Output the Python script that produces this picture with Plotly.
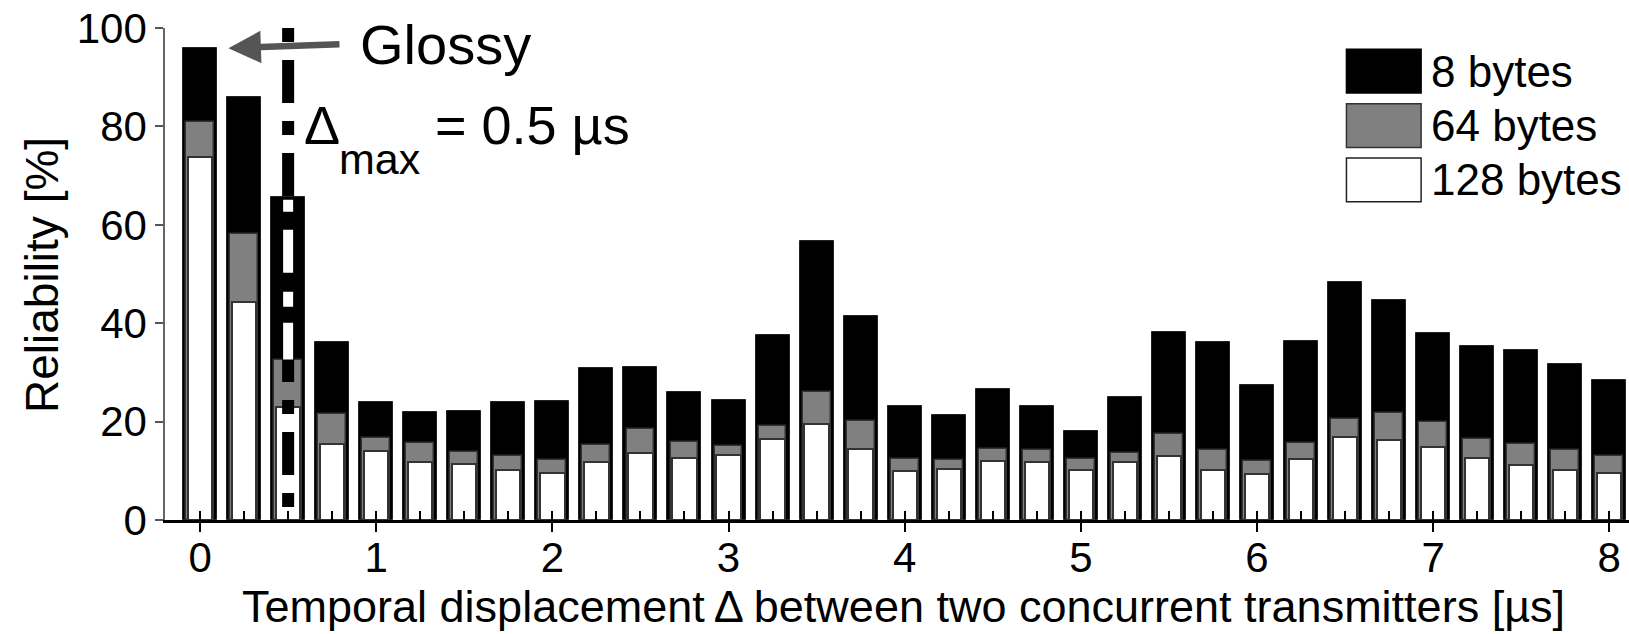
import plotly.graph_objects as go

# ---- data ----
delta_us = [0, 0.25, 0.5, 0.75, 1, 1.25, 1.5, 1.75, 2, 2.25, 2.5, 2.75, 3, 3.25, 3.5, 3.75,
            4, 4.25, 4.5, 4.75, 5, 5.25, 5.5, 5.75, 6, 6.25, 6.5, 6.75, 7, 7.25, 7.5, 7.75, 8]
rel_8 = [96.0, 86.0, 65.7, 36.2, 23.9, 22.0, 22.2, 23.9, 24.2, 30.9, 31.1, 26.1, 24.4, 37.7, 56.8, 41.5,
         23.1, 21.4, 26.7, 23.1, 18.0, 25.0, 38.3, 36.2, 27.5, 36.4, 48.3, 44.7, 38.1, 35.4, 34.5, 31.8, 28.4]
rel_64 = [80.9, 58.1, 32.6, 21.6, 16.7, 15.7, 13.8, 13.1, 12.1, 15.3, 18.4, 15.9, 15.0, 19.1, 26.1, 20.1,
          12.3, 12.1, 14.4, 14.2, 12.5, 13.6, 17.4, 14.2, 11.9, 15.7, 20.6, 21.8, 19.9, 16.5, 15.5, 14.2, 13.1]
rel_128 = [73.7, 44.3, 22.9, 15.5, 14.0, 11.7, 11.4, 10.2, 9.5, 11.7, 13.6, 12.7, 13.3, 16.5, 19.5, 14.4,
           10.0, 10.4, 11.9, 11.7, 10.2, 11.7, 13.1, 10.2, 9.3, 12.3, 16.9, 16.3, 14.8, 12.7, 11.2, 10.2, 9.5]
series_names = ["8 bytes", "64 bytes", "128 bytes"]
x_ticks = [0, 1, 2, 3, 4, 5, 6, 7, 8]
y_ticks = [0, 20, 40, 60, 80, 100]
delta_max = 0.5

FONT = "Liberation Sans, Arial, Helvetica, sans-serif"
X_RANGE = [-0.199, 8.112]

fig = go.Figure()
fig.add_trace(go.Bar(x=delta_us, y=rel_8, width=0.193, name=series_names[0],
                     marker=dict(color="#000000", line=dict(color="#222222", width=1)),
                     showlegend=False))
fig.add_trace(go.Bar(x=delta_us, y=rel_64, width=0.158, name=series_names[1],
                     marker=dict(color="#808080", line=dict(color="#333333", width=1.5)),
                     showlegend=False))
fig.add_trace(go.Bar(x=delta_us, y=rel_128, width=0.138, name=series_names[2],
                     marker=dict(color="#ffffff", line=dict(color="#333333", width=2)),
                     showlegend=False, xaxis="x2"))

fig.update_layout(
    template="none",
    width=1629, height=634,
    margin=dict(l=165, r=0, t=28, b=114, autoexpand=False),
    paper_bgcolor="white", plot_bgcolor="white",
    barmode="overlay", bargap=0, showlegend=False,
    font=dict(family=FONT, color="black", size=42),
    xaxis=dict(range=X_RANGE, tickvals=x_ticks, ticktext=[str(v) for v in x_ticks],
               ticks="outside", ticklen=9, tickwidth=1.5, tickcolor="black",
               showline=True, linecolor="black", linewidth=3, automargin=False,
               showgrid=False, zeroline=False, ticklabelstandoff=-10,
               tickfont=dict(size=42)),
    xaxis2=dict(overlaying="x", range=X_RANGE, anchor="y", side="bottom",
                tickmode="linear", tick0=0, dtick=0.25, automargin=False,
                ticks="inside", ticklen=9, tickwidth=1.5, tickcolor="black",
                showticklabels=False, showline=False, showgrid=False, zeroline=False),
    yaxis=dict(range=[0, 100], tickvals=y_ticks, ticks="outside", ticklen=8, tickwidth=1.5,
               tickcolor="#555555", showline=True, linecolor="#666666", linewidth=1.5,
               showgrid=False, zeroline=False, tickfont=dict(size=42), automargin=False),
)

# axis titles
fig.add_annotation(x=0.5045, y=(520 - 606) / 492.0, xref="paper", yref="paper", yanchor="middle",
                   text="Temporal displacement\u2009\u0394 between two concurrent transmitters [\u00b5s]",
                   showarrow=False, font=dict(size=45))
fig.add_annotation(x=(42 - 165) / 1464.0, y=(520 - 275) / 492.0, xref="paper", yref="paper",
                   text="Reliability [%]", textangle=-90, showarrow=False,
                   xanchor="center", yanchor="middle", font=dict(size=46))

# dash-dot line marking delta_max
fig.add_shape(type="line", xref="x", yref="y", x0=delta_max, x1=delta_max, y0=100, y1=2,
              line=dict(color="black", width=12, dash="14px,18px,43px,18px"), layer="above")
# inverted (white) segments where the line crosses the black bar
fig.add_shape(type="line", xref="x", yref="y", x0=delta_max, x1=delta_max, y0=65.1, y1=32.6,
              line=dict(color="white", width=10, dash="12px,18px,43px,19px,15px,16px,37px,100px"),
              layer="above")

# Glossy arrow + label
fig.add_annotation(x=0.161, y=95.9, ax=0.80, ay=96.7, xref="x", yref="y", axref="x", ayref="y",
                   text="", showarrow=True, arrowhead=2, arrowsize=1.0, arrowwidth=6.5,
                   arrowcolor="#555555")
fig.add_annotation(x=0.897, y=96.7, xref="x", yref="y", text="Glossy", showarrow=False,
                   xanchor="left", yanchor="middle", font=dict(size=56))
# Delta_max label
fig.add_annotation(x=0.576, y=80.2, xref="x", yref="y", text="\u0394", showarrow=False,
                   xanchor="left", yanchor="middle", font=dict(size=54))
fig.add_annotation(x=0.776, y=73.4, xref="x", yref="y", text="max", showarrow=False,
                   xanchor="left", yanchor="middle", font=dict(size=43))
fig.add_annotation(x=1.32, y=80.2, xref="x", yref="y", text="= 0.5 \u00b5s", showarrow=False,
                   xanchor="left", yanchor="middle", font=dict(size=54))

# legend drawn as boxes + labels (paper coordinates)
leg_fill = ["#000000", "#808080", "#ffffff"]
leg_line = ["#000000", "#333333", "#222222"]
leg_top = [0.957, 0.846, 0.736]
box_h = 0.089
for i, name in enumerate(series_names):
    fig.add_shape(type="rect", xref="paper", yref="paper", x0=0.807, x1=0.858,
                  y0=leg_top[i] - box_h, y1=leg_top[i],
                  fillcolor=leg_fill[i], line=dict(color=leg_line[i], width=1.5))
    fig.add_annotation(x=0.8635, y=leg_top[i] - box_h / 2, xref="paper", yref="paper",
                       text=name, showarrow=False, xanchor="left", yanchor="middle",
                       font=dict(size=44))

fig.write_html("out.html", config={"displayModeBar": False},
               post_script="document.body.style.margin='0';document.body.style.overflow='hidden';")
